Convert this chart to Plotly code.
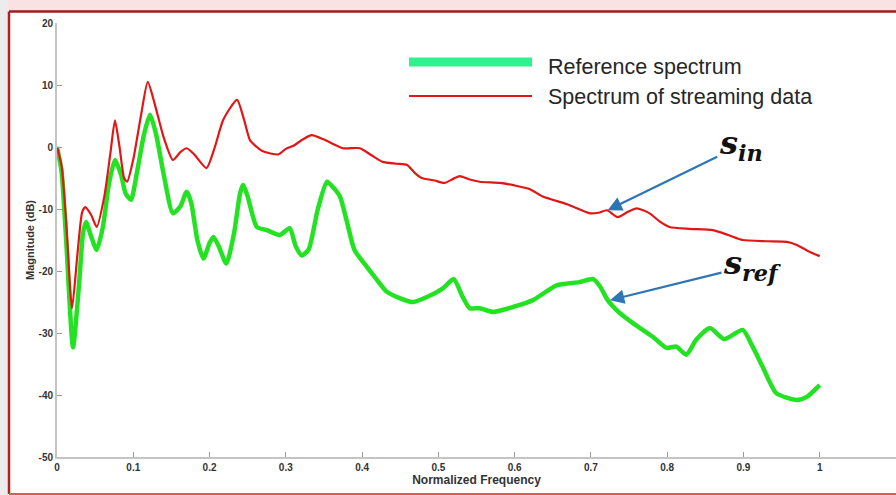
import plotly.graph_objects as go

# ---------------- data ----------------
freq_in = [0, 0.006, 0.012, 0.0197, 0.027, 0.033, 0.037, 0.045, 0.052, 0.062, 0.07, 0.076,
           0.082, 0.088, 0.092, 0.1, 0.11, 0.119, 0.128, 0.14, 0.152, 0.162, 0.17, 0.18,
           0.196, 0.207, 0.218, 0.236, 0.245, 0.253, 0.262, 0.27, 0.29, 0.3, 0.31, 0.322,
           0.334, 0.35, 0.375, 0.397, 0.412, 0.427, 0.445, 0.459, 0.47, 0.478, 0.495, 0.508,
           0.52, 0.528, 0.54, 0.554, 0.581, 0.6, 0.62, 0.637, 0.668, 0.699, 0.71, 0.721,
           0.735, 0.748, 0.76, 0.777, 0.79, 0.803, 0.83, 0.86, 0.88, 0.899, 0.93, 0.957,
           0.97, 0.985, 1.0]
mag_in = [0, -3, -12, -26, -17, -10.5, -9.7, -11, -12.9, -8, -1, 4.3,
          0, -5, -5.6, -2, 5, 10.5, 7, 1.5, -2.1, -0.8, -0.2, -1.2,
          -3.4, 0, 4.4, 7.6, 4.5, 1.1, 0, -0.7, -1.2, -0.3, 0.2, 1.2,
          1.9, 1.2, -0.2, -0.2, -1.3, -2.4, -2.7, -2.9, -4.3, -5.0, -5.4, -5.8,
          -5.1, -4.7, -5.2, -5.6, -5.8, -6.2, -6.8, -8.0, -9.2, -10.7, -10.6, -10.2,
          -11.3, -10.5, -9.9, -10.7, -12, -12.9, -13.2, -13.4, -14.2, -15.0, -15.2, -15.3,
          -15.8, -16.8, -17.6]

freq_ref = [0, 0.006, 0.012, 0.021, 0.029, 0.034, 0.038, 0.045, 0.052, 0.06, 0.068, 0.076,
            0.084, 0.09, 0.097, 0.105, 0.114, 0.122, 0.13, 0.14, 0.152, 0.162, 0.17, 0.176,
            0.184, 0.192, 0.2, 0.205, 0.212, 0.222, 0.232, 0.24, 0.244, 0.25, 0.262, 0.275,
            0.292, 0.305, 0.313, 0.321, 0.33, 0.342, 0.354, 0.362, 0.371, 0.38, 0.39, 0.406,
            0.42, 0.432, 0.45, 0.467, 0.485, 0.506, 0.52, 0.532, 0.541, 0.554, 0.572, 0.598,
            0.624, 0.655, 0.685, 0.703, 0.712, 0.722, 0.738, 0.755, 0.781, 0.799, 0.812, 0.825,
            0.838, 0.856, 0.875, 0.899, 0.912, 0.925, 0.943, 0.97, 0.983, 1.0]
mag_ref = [0, -4, -15, -32.3, -22, -14, -12.1, -14.5, -16.6, -13, -6, -2.1,
           -4.5, -7.5, -8.5, -4, 2, 5.2, 2, -4.5, -10.7, -9.5, -7.2, -9,
           -15, -18, -15.5, -14.5, -16, -18.8, -14, -7.5, -6.1, -8, -12.9, -13.4,
           -14.2, -13.1, -16, -17.5, -16.5, -10, -5.6, -6.5, -8.0, -12, -16.6, -19.3,
           -21.5, -23.3, -24.4, -25, -24.2, -22.8, -21.3, -24.2, -26.0, -26, -26.6, -25.8,
           -24.7, -22.3, -21.8, -21.3, -22.5, -24.7, -26.8, -28.4, -30.6, -32.4, -32.2, -33.5,
           -31.1, -29.2, -31, -29.5, -32.2, -35.4, -39.7, -40.8, -40.3, -38.4]

x_tickvals = [0, 0.1, 0.2, 0.3, 0.4, 0.5, 0.6, 0.7, 0.8, 0.9, 1.0]
x_ticktext = ["0", "0.1", "0.2", "0.3", "0.4", "0.5", "0.6", "0.7", "0.8", "0.9", "1"]
y_tickvals = [-50, -40, -30, -20, -10, 0, 10, 20]
y_ticktext = ["-50", "-40", "-30", "-20", "-10", "0", "10", "20"]

legend_labels = ["Reference spectrum", "Spectrum of streaming data"]
label_in = "<b><i>s<sub>in</sub></i></b>"
label_ref = "<b><i>s<sub>ref</sub></i></b>"
# points the labels' arrows point at (frequency, magnitude)
arrow_in_target = (0.722, -10.2)
arrow_ref_target = (0.725, -24.7)

# ---------------- layout geometry ----------------
W, H = 896, 495
ML, MR, MT, MB = 57, 0, 23, 38
PW, PH = W - ML - MR, H - MT - MB


def px(xp):
    return (xp - ML) / PW


def py(yp):
    return (H - MB - yp) / PH


GREEN = "rgb(34,226,34)"
RED = "rgb(226,22,22)"
MINT = "rgb(46,242,140)"
BLUE = "rgb(46,117,182)"

fig = go.Figure()
fig.add_trace(go.Scatter(x=freq_ref, y=mag_ref, mode="lines", name=legend_labels[0],
                         line=dict(color=GREEN, width=4.5, shape="spline", smoothing=0.6),
                         showlegend=False))
fig.add_trace(go.Scatter(x=freq_in, y=mag_in, mode="lines", name=legend_labels[1],
                         line=dict(color=RED, width=2.2, shape="spline", smoothing=0.6),
                         showlegend=False))

shapes = [
    # outer strips
    dict(type="rect", xref="paper", yref="paper", x0=px(0), x1=px(8), y0=py(H), y1=py(0),
         fillcolor="#ececec", line=dict(width=0), layer="below"),
    dict(type="rect", xref="paper", yref="paper", x0=px(8), x1=px(W), y0=py(11), y1=py(0),
         fillcolor="#f8e2e2", line=dict(width=0), layer="below"),
    # frame
    dict(type="line", xref="paper", yref="paper", x0=px(9), x1=px(W + 5), y0=py(11.5), y1=py(11.5),
         line=dict(color="#9e1c1c", width=2.5)),
    dict(type="line", xref="paper", yref="paper", x0=px(9), x1=px(9), y0=py(11.5), y1=py(494),
         line=dict(color="#b02020", width=2.5)),
    dict(type="line", xref="paper", yref="paper", x0=px(9), x1=px(W + 5), y0=py(494), y1=py(494),
         line=dict(color="#e05a5a", width=2)),
    # manual legend
    dict(type="line", xref="paper", yref="paper", x0=px(409), x1=px(532), y0=py(62), y1=py(62),
         line=dict(color=MINT, width=9)),
    dict(type="line", xref="paper", yref="paper", x0=px(409), x1=px(532), y0=py(96), y1=py(96),
         line=dict(color=RED, width=2)),
]

label_font = dict(family="DejaVu Serif", size=32, color="#111")
legend_font = dict(family="Liberation Sans, Arial", size=21.5, color="#262626")
annotations = [
    dict(xref="paper", yref="paper", x=px(546), y=py(67), text=legend_labels[0], showarrow=False,
         xanchor="left", yanchor="middle", font=legend_font),
    dict(xref="paper", yref="paper", x=px(546), y=py(97), text=legend_labels[1], showarrow=False,
         xanchor="left", yanchor="middle", font=legend_font),
    # labels with arrows (text centred at pixel offset ax/ay from the arrow tip)
    dict(x=arrow_in_target[0], y=arrow_in_target[1], xref="x", yref="y",
         ax=133, ay=-65, axref="pixel", ayref="pixel", text=label_in, font=label_font,
         showarrow=True, arrowhead=2, arrowsize=1.3, arrowwidth=2.2, arrowcolor=BLUE),
    dict(x=arrow_ref_target[0], y=arrow_ref_target[1], xref="x", yref="y",
         ax=142, ay=-35, axref="pixel", ayref="pixel", text=label_ref, font=label_font,
         showarrow=True, arrowhead=2, arrowsize=1.3, arrowwidth=2.2, arrowcolor=BLUE),
]

axis_font = dict(family="Liberation Sans, Arial", size=10, color="#333")
fig.update_layout(
    width=W, height=H,
    margin=dict(l=ML, r=MR, t=MT, b=MB),
    paper_bgcolor="white", plot_bgcolor="white",
    showlegend=False,
    shapes=shapes, annotations=annotations,
    xaxis=dict(range=[0, 1.1], tickvals=x_tickvals,
               ticktext=["<b>%s</b>" % t for t in x_ticktext], ticks="inside",
               ticklen=5, tickcolor="#999", showline=True, linecolor="#c4c4c4", linewidth=2,
               showgrid=False, zeroline=False, tickfont=axis_font,
               title=dict(text="<b>Normalized Frequency</b>", standoff=2,
                          font=dict(family="Liberation Sans, Arial", size=12, color="#333"))),
    yaxis=dict(range=[-50, 20], tickvals=y_tickvals,
               ticktext=["<b>%s</b>" % t for t in y_ticktext], ticks="inside",
               ticklen=5, tickcolor="#999", showline=True, linecolor="#c4c4c4", linewidth=2,
               showgrid=False, zeroline=False, tickfont=axis_font,
               title=dict(text="<b>Magnitude (dB)</b>", standoff=2,
                          font=dict(family="Liberation Sans, Arial", size=11, color="#333"))),
)

fig.write_html("out.html")
